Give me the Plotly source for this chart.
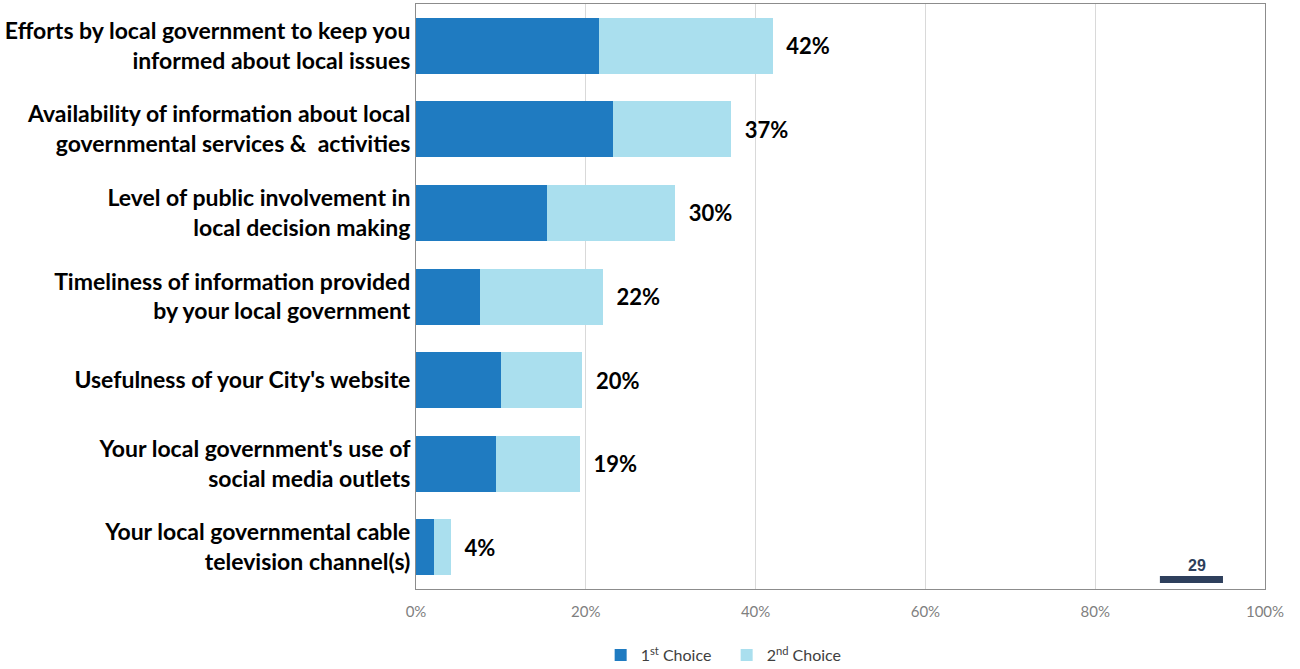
import plotly.graph_objects as go

categories = [
    "Efforts by local government to keep you<br>informed about local issues",
    "Availability of information about local<br>governmental services &  activities",
    "Level of public involvement in<br>local decision making",
    "Timeliness of information provided<br>by your local government",
    "Usefulness of your City's website",
    "Your local government's use of<br>social media outlets",
    "Your local governmental cable<br>television channel(s)",
]
first_choice = [21.6, 23.2, 15.4, 7.5, 10.0, 9.4, 2.1]
second_choice = [20.4, 13.9, 15.1, 14.5, 9.6, 9.9, 2.0]
total_labels = ["42%", "37%", "30%", "22%", "20%", "19%", "4%"]
x_ticks = [0, 20, 40, 60, 80, 100]
x_tick_text = ["0%", "20%", "40%", "60%", "80%", "100%"]

fig = go.Figure()
fig.add_trace(go.Bar(
    y=categories, x=first_choice, orientation="h",
    name="1<sup>st</sup> Choice", marker=dict(color="#1F7BC1", line=dict(width=0)),
))
fig.add_trace(go.Bar(
    y=categories, x=second_choice, orientation="h",
    name="2<sup>nd</sup> Choice", marker=dict(color="#AADFEE", line=dict(width=0)),
    text=["\u00a0\u00a0" + t for t in total_labels], textposition="outside",
    textfont=dict(family="Lato", size=22, color="#000000", weight="bold"),
    constraintext="none", cliponaxis=False,
))

fig.update_layout(
    barmode="stack",
    bargap=0.33,
    width=1300, height=669,
    margin=dict(l=416, r=35, t=4, b=80, autoexpand=False),
    plot_bgcolor="white", paper_bgcolor="white",
    font=dict(family="Lato"),
    showlegend=True,
    legend=dict(orientation="h", x=0.2175, xanchor="left", y=-0.113, yanchor="middle",
                font=dict(family="Lato", size=16, color="#404040"),
                entrywidth=81, traceorder="normal"),
    xaxis=dict(range=[0, 100], tickvals=x_ticks, ticktext=x_tick_text,
               showgrid=True, gridcolor="#D9D9D9", gridwidth=1,
               showline=True, linecolor="#8C8C8C", linewidth=1, mirror=True,
               tickfont=dict(family="Lato", size=15, color="#7F7F7F"),
               ticks="", zeroline=False, ticklabelstandoff=9),
    yaxis=dict(autorange="reversed", showline=True, linecolor="#8C8C8C", linewidth=1,
               mirror=True, ticks="",
               tickfont=dict(family="Lato", size=23, color="#000000", weight="bold")),
    annotations=[dict(x=0.920, y=0.022, xref="paper", yref="paper", text="<b>29</b>",
                      showarrow=False, xanchor="center", yanchor="bottom",
                      font=dict(family="Liberation Sans", size=16, color="#2E3F5C"))],
    shapes=[dict(type="rect", xref="paper", yref="paper", x0=0.8762, x1=0.9505,
                 y0=0.0103, y1=0.0222, fillcolor="#2E3F5C", line=dict(width=0))],
)

fig.write_html("out.html")
